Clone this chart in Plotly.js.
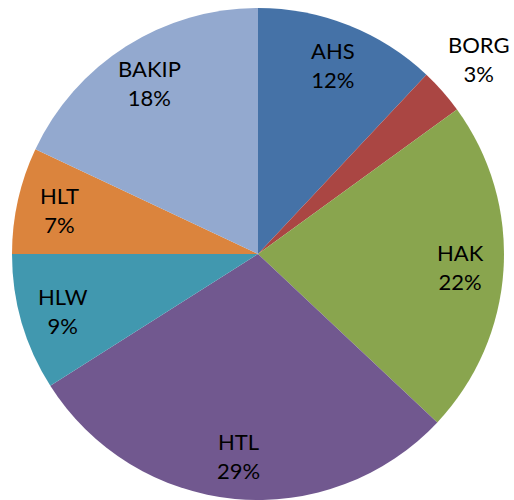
<!DOCTYPE html>
<html>
<head>
<meta charset="utf-8">
<script src="https://cdn.plot.ly/plotly-3.0.1.min.js"></script>
<style>html,body{margin:0;padding:0;background:#fff;}#chart{width:514px;height:500px;}</style>
</head>
<body>
<div id="chart"></div>
<script>
const categories = ["AHS", "BORG", "HAK", "HTL", "HLW", "HLT", "BAKIP"];
const shares = [12, 3, 22, 29, 9, 7, 18];
const colors = ["#4572A7", "#AA4643", "#89A54E", "#71588F", "#4198AF", "#DB843D", "#93A9CF"];

const W = 514, H = 500;
const cx = 258, cy = 254, R = 246;
const dom = { x: [(cx - R) / W, (cx + R) / W], y: [(H - cy - R) / H, (H - cy + R) / H] };

const total = shares.reduce((a, b) => a + b, 0);
const annotations = [];
let acc = 0;
shares.forEach((v, i) => {
  const mid = (acc + v / 2) / total * 2 * Math.PI;
  acc += v;
  const outside = v / total < 0.05;
  const f = outside ? 1.2 : 0.825;
  const px = cx + R * f * Math.sin(mid);
  const py = cy - R * f * Math.cos(mid);
  annotations.push({
    xref: "paper", yref: "paper",
    x: px / W, y: (H - py) / H,
    xanchor: "center", yanchor: "middle",
    text: categories[i] + "<br>" + Math.round(v / total * 100) + "%",
    showarrow: false,
    font: { family: "Lato, 'Open Sans', sans-serif", size: 22, color: "#000" }
  });
});

const trace = {
  type: "pie",
  labels: categories,
  values: shares,
  sort: false,
  direction: "clockwise",
  rotation: 0,
  textinfo: "none",
  hoverinfo: "label+percent",
  marker: { colors: colors, line: { width: 0 } },
  domain: dom,
  showlegend: false
};

const layout = {
  width: W, height: H,
  margin: { l: 0, r: 0, t: 0, b: 0 },
  paper_bgcolor: "#fff",
  showlegend: false,
  annotations: annotations
};

Plotly.newPlot("chart", [trace], layout, { displayModeBar: false, staticPlot: true });
</script>
</body>
</html>
